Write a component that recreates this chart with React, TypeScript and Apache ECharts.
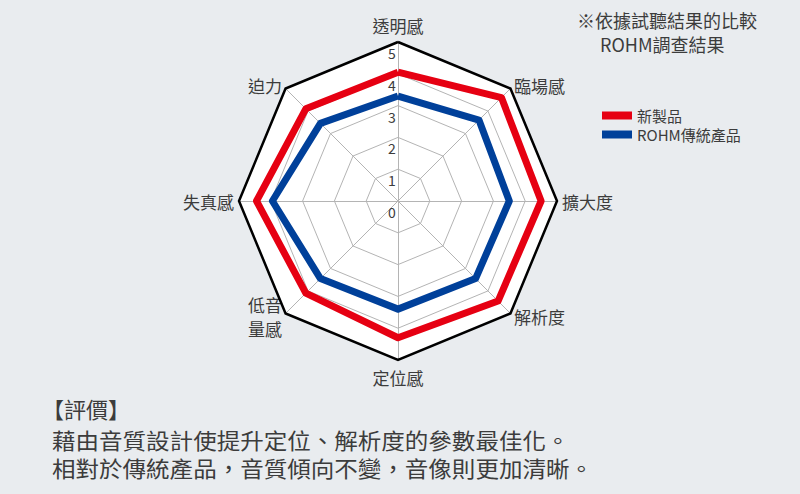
import React, { useEffect, useRef } from 'react';
import * as echarts from 'echarts';

// indicators in ECharts order (counter-clockwise from the top)
const indicatorNames = ['透明感', '迫力', '失真感', '低音\n量感', '定位感', '解析度', '擴大度', '臨場感'];
const newProduct = [4.05, 4.1, 4.45, 4.1, 4.3, 4.45, 4.5, 4.6];
const rohmOld = [3.3, 3.45, 3.95, 3.45, 3.4, 3.45, 3.5, 3.6];
const seriesNames = ['新製品', 'ROHM傳統產品'];
const tickLabels = ['0', '1', '2', '3', '4', '5'];
const maxValue = 5;

const noteLines = ['※依據試聽結果的比較', 'ROHM調查結果'];
const evalTitle = '【評價】';
const evalLines = ['藉由音質設計使提升定位、解析度的參數最佳化。', '相對於傳統產品，音質傾向不變，音像則更加清晰。'];

const FONT = '"Noto Sans CJK TC", "Noto Sans", sans-serif';
const TEXT = '#3c3c3c';
const CX = 398;
const CY = 201;
const R = 159;

export default function App() {
    const chartRef = useRef<HTMLDivElement>(null);

    useEffect(() => {
        const chart = echarts.init(chartRef.current!, null, { renderer: 'svg' });
        const step = R / maxValue;

        chart.setOption({
            animation: false,
            backgroundColor: '#e9ecef',
            textStyle: { fontFamily: FONT },
            color: ['#e60012', '#00409a'],
            legend: {
                orient: 'vertical',
                left: 597,
                top: 103,
                itemWidth: 30,
                itemHeight: 8,
                itemGap: 4,
                icon: 'rect',
                textStyle: { fontSize: 15, lineHeight: 15, color: TEXT, fontFamily: FONT },
                data: seriesNames,
            },
            radar: [
                {
                    center: [CX, CY],
                    radius: R,
                    startAngle: 90,
                    shape: 'polygon',
                    splitNumber: 5,
                    indicator: indicatorNames.map((name) => ({ name, max: maxValue, min: 0 })),
                    axisName: { color: TEXT, fontSize: 17, fontFamily: FONT, lineHeight: 24 },
                    nameGap: 5,
                    axisLine: { lineStyle: { color: '#b4b4b4', width: 1 } },
                    splitLine: { lineStyle: { color: '#b4b4b4', width: 1 } },
                    splitArea: { show: true, areaStyle: { color: ['#ffffff'] } },
                    axisLabel: { show: false },
                },
                {
                    center: [CX, CY],
                    radius: R,
                    startAngle: 90,
                    shape: 'polygon',
                    splitNumber: 1,
                    z: 3,
                    indicator: indicatorNames.map(() => ({ name: '', max: maxValue, min: 0 })),
                    axisName: { show: false },
                    axisLine: { show: false },
                    splitLine: { lineStyle: { color: '#000000', width: 2.5 } },
                    splitArea: { show: false },
                },
            ],
            series: [
                {
                    type: 'radar',
                    radarIndex: 0,
                    symbol: 'none',
                    silent: true,
                    z: 4,
                    data: [
                        { name: seriesNames[0], value: newProduct, lineStyle: { width: 7, color: '#e60012' } },
                        { name: seriesNames[1], value: rohmOld, lineStyle: { width: 7, color: '#00409a' } },
                    ],
                },
            ],
            graphic: [
                ...tickLabels.map((t, i) => ({
                    type: 'text',
                    x: CX - 6,
                    y: CY - i * step + 11,
                    z: 10,
                    style: {
                        text: t,
                        fill: TEXT,
                        fontSize: 14,
                        fontFamily: FONT,
                        textAlign: 'center',
                        textVerticalAlign: 'middle',
                    },
                })),
                {
                    type: 'text',
                    x: 577,
                    y: 20,
                    style: { text: noteLines[0], fill: TEXT, fontSize: 18, fontFamily: FONT, textVerticalAlign: 'middle' },
                },
                {
                    type: 'text',
                    x: 600,
                    y: 44,
                    style: { text: noteLines[1], fill: TEXT, fontSize: 18, fontFamily: FONT, textVerticalAlign: 'middle' },
                },
                {
                    type: 'text',
                    x: 42,
                    y: 408,
                    style: { text: evalTitle, fill: TEXT, fontSize: 22, fontFamily: FONT, textVerticalAlign: 'middle' },
                },
                ...evalLines.map((t, i) => ({
                    type: 'text',
                    x: 52,
                    y: 440 + i * 28,
                    scaleX: 1.07,
                    style: { text: t, fill: TEXT, fontSize: 22, fontFamily: FONT, textVerticalAlign: 'middle' },
                })),
            ],
        });

        return () => {
            chart.dispose();
        };
    }, []);

    return (
        <div
            ref={chartRef}
            style={{ position: 'fixed', left: 0, top: 0, width: 800, height: 494 }}
        />
    );
}
